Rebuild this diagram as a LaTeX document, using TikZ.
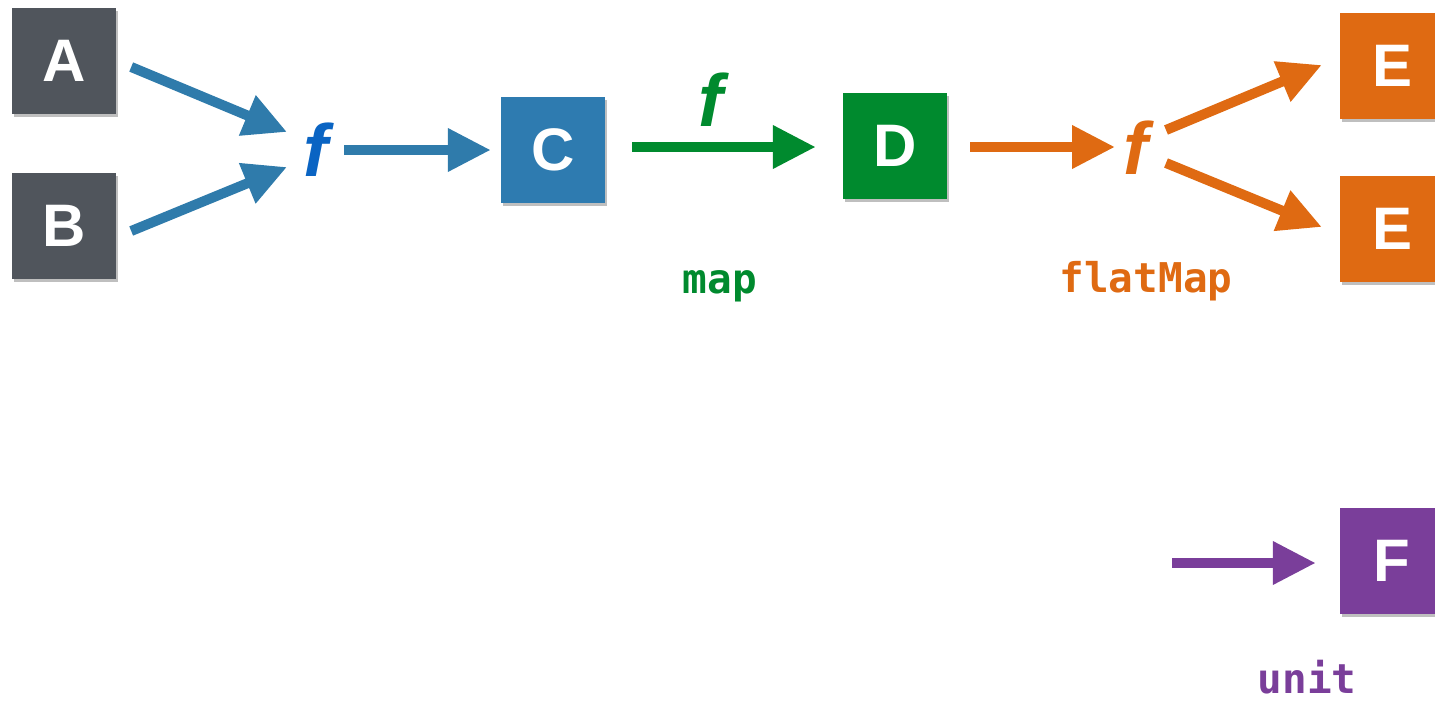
\documentclass[tikz,border=0pt]{standalone}
\usepackage{fontspec}
\setmainfont{Liberation Sans}
\newfontfamily\monobold{DejaVu Sans Mono}
\usetikzlibrary{arrows.meta,shadows,calc}
\definecolor{boxgray}{HTML}{50555C}
\definecolor{arrblue}{HTML}{2F7BAB}
\definecolor{fblue}{HTML}{0A64C3}
\definecolor{cblue}{HTML}{2E7BB0}
\definecolor{mgreen}{HTML}{008A2E}
\definecolor{morange}{HTML}{DF6A12}
\definecolor{mpurple}{HTML}{7A3E9A}
\tikzset{
  box/.style={rectangle, minimum width=104pt, minimum height=106pt, inner sep=0pt,
    text=white, font=\fontsize{60}{60}\selectfont\bfseries,
    drop shadow={shadow xshift=2pt, shadow yshift=-3pt, opacity=0.25, fill=black}},
  fun/.style={inner sep=0pt, font=\fontsize{74}{74}\selectfont\bfseries\itshape},
  lbl/.style={inner sep=0pt, font=\fontsize{41}{41}\selectfont\monobold\bfseries},
  arr/.style={line width=10pt, -{Triangle[length=43pt,width=41pt]}},
}
\begin{document}
\begin{tikzpicture}[x=1pt,y=-1pt]
\useasboundingbox (0,0) rectangle (1435,702);
\clip (0,0) rectangle (1435,702);
% boxes
\node[box, fill=boxgray] (A) at (64,61) {A};
\node[box, fill=boxgray] (B) at (64,226) {B};
\node[box, fill=cblue] (C) at (553,150) {C};
\node[box, fill=mgreen] (D) at (895,146) {D};
\node[box, fill=morange] (E1) at (1392,66) {E};
\node[box, fill=morange] (E2) at (1392,229) {E};
\node[box, fill=mpurple] (F) at (1392,561) {F};
% f hubs
\node[fun, text=fblue] (f1) at (316,150) {f};
\node[fun, text=mgreen] (f2) at (711,100) {f};
\node[fun, text=morange] (f3) at (1136,148) {f};
% arrows
\draw[arr, arrblue] ([shift={(15,6)}]A.east) -- ([shift={(-29,-18)}]f1.center);
\draw[arr, arrblue] ([shift={(15,5)}]B.east) -- ([shift={(-29,17)}]f1.center);
\draw[arr, arrblue] ([xshift=28pt]f1.center) -- ([xshift=-10pt]C.west);
\draw[arr, mgreen] ([shift={(27,-3)}]C.east) -- ([shift={(-27,1)}]D.west);
\draw[arr, morange] ([shift={(23,1)}]D.east) -- ([shift={(-21,-1)}]f3.center);
\draw[arr, morange] ([shift={(30,-18)}]f3.center) -- ([shift={(-18,-1)}]E1.west);
\draw[arr, morange] ([shift={(30,15)}]f3.center) -- ([shift={(-18,-2)}]E2.west);
\coordinate (u0) at (1172,563);
\draw[arr, mpurple] (u0) -- ([shift={(-24,2)}]F.west);
% labels
\node[lbl, text=mgreen] (map) at (720,286) {map};
\node[lbl, text=morange] (fm) at (1146,281) {flatMap};
\node[lbl, text=mpurple] (unit) at (1307,677) {unit};
\end{tikzpicture}
\end{document}
